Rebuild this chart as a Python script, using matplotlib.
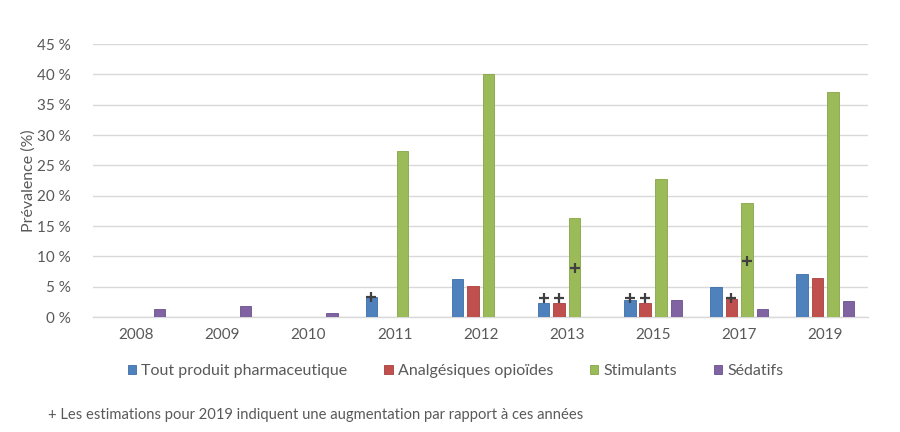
import matplotlib
matplotlib.use("Agg")
import matplotlib.pyplot as plt
import numpy as np

plt.rcParams['font.family'] = ['Lato', 'DejaVu Sans']

years = ["2008", "2009", "2010", "2011", "2012", "2013", "2015", "2017", "2019"]
series_names = ["Tout produit pharmaceutique", "Analgésiques opioïdes", "Stimulants", "Sédatifs"]
tout = [0, 0, 0, 3.3, 6.3, 2.3, 2.8, 4.9, 7.1]
opioides = [0, 0, 0, 0, 5.1, 2.3, 2.3, 3.0, 6.4]
stimulants = [0, 0, 0, 27.3, 40.0, 16.3, 22.7, 18.8, 37.1]
sedatifs = [1.3, 1.8, 0.6, 0, 0, 0, 2.8, 1.3, 2.6]
colors = ["#4F81BD", "#C0504D", "#9BBB59", "#8064A2"]
edges = ["#3A6EA8", "#A8403D", "#86A548", "#6A5190"]

# plus markers: (year index, series index, y value)
plus_year = [3, 5, 5, 5, 6, 6, 7, 7]
plus_series = [0, 0, 1, 2, 0, 1, 1, 2]
plus_y = [3.3, 3.2, 3.2, 8.1, 3.2, 3.2, 3.1, 9.3]

yticks = [0, 5, 10, 15, 20, 25, 30, 35, 40, 45]
ytick_labels = [f"{v} %" for v in yticks]

fig = plt.figure(figsize=(9, 4.32), dpi=100)
ax = fig.add_axes([0.1035, 0.266, 0.8614, 0.632])

x = np.arange(len(years))
bw = 0.135
step = 0.18
data = [tout, opioides, stimulants, sedatifs]
for i, (vals, c, e, name) in enumerate(zip(data, colors, edges, series_names)):
    offs = (i - 1.5) * step
    ax.bar(x + offs, vals, width=bw, color=c, edgecolor=e, linewidth=0.6, label=name, zorder=3)

px = [x[g] + (s - 1.5) * step for g, s in zip(plus_year, plus_series)]
ax.plot(px, plus_y, linestyle='none', marker='+', markersize=7, mew=1.6, color="#404040", zorder=4)

ax.set_xlim(-0.5, len(years) - 0.5)
ax.set_ylim(0, 45)
ax.set_yticks(yticks)
ax.set_yticklabels(ytick_labels)
ax.set_xticks(x)
ax.set_xticklabels(years)
ax.grid(axis='y', color="#D9D9D9", linewidth=1, zorder=0)
for s in ["top", "right", "left"]:
    ax.spines[s].set_visible(False)
ax.spines["bottom"].set_color("#D9D9D9")
ax.spines["bottom"].set_linewidth(1)
ax.tick_params(axis='both', length=0, labelsize=11, colors="#595959")
ax.tick_params(axis='y', pad=16)
ax.tick_params(axis='x', pad=8)
ax.set_ylabel("Prévalence (%)", fontsize=11.5, color="#595959", labelpad=1)

leg = fig.legend(loc="center", bbox_to_anchor=(0.506, 0.141), ncol=4, frameon=False,
                 fontsize=11.5, handlelength=0.55, handleheight=0.55, handletextpad=0.3,
                 columnspacing=2.3)
for t in leg.get_texts():
    t.set_color("#595959")

fig.text(0.053, 0.023, "+ Les estimations pour 2019 indiquent une augmentation par rapport à ces années",
         fontsize=10.6, color="#595959", ha="left", va="bottom")

fig.savefig("out.png", dpi=100)
